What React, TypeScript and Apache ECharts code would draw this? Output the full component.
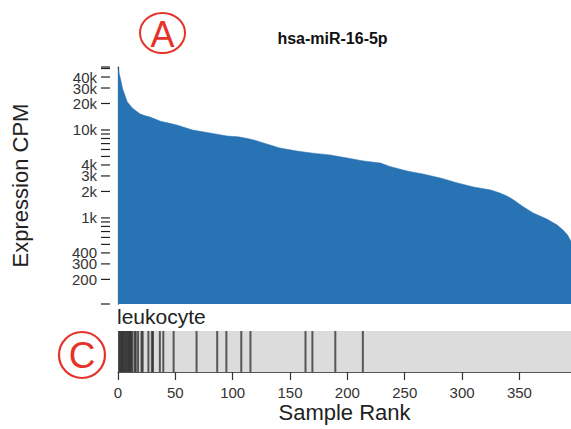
import React, { useEffect, useRef } from "react";
import * as echarts from "echarts";

// ---- data ----
const sampleRanks = [
  0, 1, 2, 3, 4, 6, 8, 10, 12, 15, 19, 23, 28, 37, 45, 52, 65, 80, 95, 105, 113, 120, 127,
  141, 156, 170, 185, 200, 214, 229, 237, 252, 266, 281, 296, 310, 325, 333, 339, 345, 353,
  362, 374, 383, 388, 392, 395,
];
const expressionCPM = [
  52000, 44000, 39000, 34000, 29500, 25000, 21000, 19500, 18000, 16800, 15300, 14600, 14000,
  12600, 11900, 11300, 10000, 9250, 8550, 8350, 8000, 7600, 7100, 6250, 5750, 5450, 5200,
  4800, 4450, 4200, 3850, 3420, 3150, 2850, 2500, 2250, 2080, 1920, 1780, 1600, 1350, 1140,
  970, 830, 730, 640, 540,
];
const leukocyteRanks = [
  0, 1, 2, 3, 4, 5, 6, 7, 8, 9, 10, 11, 12, 14, 15, 17, 20, 21, 26, 29, 30, 36, 39, 48, 68,
  86, 94, 107, 115, 163, 169, 189, 213,
];
const yTickValues = [
  105, 200, 300, 400, 500, 600, 700, 800, 900, 1000, 2000, 3000, 4000, 5000, 6000, 7000, 8000,
  9000, 10000, 20000, 30000, 40000, 50000, 52000,
];
const yTickLabels = [
  "", "200", "300", "400", "", "", "", "", "", "1k", "2k", "3k", "4k", "", "", "", "", "",
  "10k", "20k", "30k", "40k", "", "",
];
const xTickValues = [0, 50, 100, 150, 200, 250, 300, 350];
const rankMax = 395;
const cpmMin = 105;
const cpmMax = 52000;

const FONT = "'Liberation Sans', Arial, Helvetica, sans-serif";
const RED = "#e5332a";

export default function App() {
  const ref = useRef<HTMLDivElement>(null);
  useEffect(() => {
    document.body.style.margin = "0";
    const chart = echarts.init(ref.current!, null, { renderer: "svg" });
    const option: any = {
      animation: false,
      backgroundColor: "#ffffff",
      grid: [
        { left: 118, right: 0, top: 67, height: 237, containLabel: false, outerBoundsMode: "none" },
        {
          left: 118, right: 0, top: 331, height: 41, show: true, backgroundColor: "#dcdcdc",
          borderWidth: 0, containLabel: false, outerBoundsMode: "none",
        },
      ],
      xAxis: [
        { gridIndex: 0, type: "value", min: 0, max: rankMax, show: false },
        {
          gridIndex: 1, type: "value", min: 0, max: rankMax, interval: 50,
          axisLine: { show: true, onZero: false, lineStyle: { color: "#555", width: 1 } },
          axisTick: { show: true, length: 8, lineStyle: { color: "#333", width: 1.2 }, customValues: xTickValues },
          axisLabel: { customValues: xTickValues, fontSize: 15, color: "#333", fontFamily: FONT, margin: 13 },
          splitLine: { show: false },
          name: "Sample Rank", nameLocation: "middle", nameGap: 29,
          nameTextStyle: { fontSize: 22, color: "#222", fontFamily: FONT },
        },
      ],
      yAxis: [
        {
          gridIndex: 0, type: "log", logBase: 10, min: cpmMin, max: cpmMax, offset: 8,
          axisLine: { show: true, lineStyle: { color: "#222", width: 1.2 } },
          axisTick: { show: false }, axisLabel: { show: false }, splitLine: { show: false },
        },
        { gridIndex: 1, type: "value", min: 0, max: 1, show: false },
      ],
      series: [
        {
          type: "line", xAxisIndex: 0, yAxisIndex: 0, silent: true,
          data: sampleRanks.map((r, i) => [r, expressionCPM[i]]),
          showSymbol: false, symbol: "none",
          lineStyle: { width: 0.5, color: "#2773b3" },
          areaStyle: { color: "#2773b3", opacity: 1, origin: "start" },
        },
        {
          type: "custom", xAxisIndex: 0, yAxisIndex: 0, clip: false, silent: true,
          data: yTickValues.map((v) => [0, v]),
          renderItem: (params: any, api: any) => {
            const v = yTickValues[params.dataIndex];
            const pt = api.coord([0, v]);
            const ax = pt[0] - 8;
            const children: any[] = [
              { type: "line", shape: { x1: ax - 9, y1: pt[1], x2: ax, y2: pt[1] }, style: { stroke: "#222", lineWidth: 1.2 } },
            ];
            const label = yTickLabels[params.dataIndex];
            if (label) {
              children.push({
                type: "text", x: ax - 13, y: pt[1],
                style: { text: label, align: "right", verticalAlign: "middle", fontSize: 15, fontFamily: FONT, fill: "#333" },
              });
            }
            return { type: "group", children };
          },
        },
        {
          type: "custom", xAxisIndex: 1, yAxisIndex: 1, clip: true, silent: true,
          data: leukocyteRanks.map((r) => [r, 0.5]),
          renderItem: (params: any, api: any) => {
            const r = leukocyteRanks[params.dataIndex];
            const x0 = api.coord([r, 0])[0];
            const x1 = api.coord([r + 1, 0])[0];
            const cs = params.coordSys;
            const w = Math.max(x1 - x0, 2);
            return {
              type: "rect",
              shape: { x: (x0 + x1) / 2 - w / 2, y: cs.y, width: w, height: cs.height },
              style: { fill: "#222", opacity: 0.72 },
            };
          },
        },
      ],
      graphic: [
        {
          type: "text", x: 332.5, y: 38.5,
          style: { text: "hsa-miR-16-5p", align: "center", verticalAlign: "middle", fontSize: 16, fontWeight: "bold", fontFamily: FONT, fill: "#111" },
        },
        {
          type: "text", x: 117, y: 316,
          style: { text: "leukocyte", align: "left", verticalAlign: "middle", fontSize: 21, fontFamily: FONT, fill: "#222" },
        },
        {
          type: "text", x: 20, y: 185.5, rotation: Math.PI / 2,
          style: { text: "Expression CPM", align: "center", verticalAlign: "middle", fontSize: 22, fontFamily: FONT, fill: "#222" },
        },
        { type: "ellipse", shape: { cx: 162.5, cy: 33, rx: 22.5, ry: 20 }, style: { fill: "none", stroke: RED, lineWidth: 2 } },
        {
          type: "text", x: 162.5, y: 34.5,
          style: { text: "A", align: "center", verticalAlign: "middle", fontSize: 36, fontFamily: FONT, fill: RED },
        },
        { type: "ellipse", shape: { cx: 82, cy: 355, rx: 23, ry: 23 }, style: { fill: "none", stroke: RED, lineWidth: 2.2 } },
        {
          type: "text", x: 82, y: 355.5,
          style: { text: "C", align: "center", verticalAlign: "middle", fontSize: 37, fontFamily: FONT, fill: RED },
        },
      ],
    };
    chart.setOption(option);
    return () => chart.dispose();
  }, []);
  return (
    <div
      ref={ref}
      style={{ width: 571, height: 429, position: "absolute", left: 0, top: 0, background: "#fff" }}
    />
  );
}
